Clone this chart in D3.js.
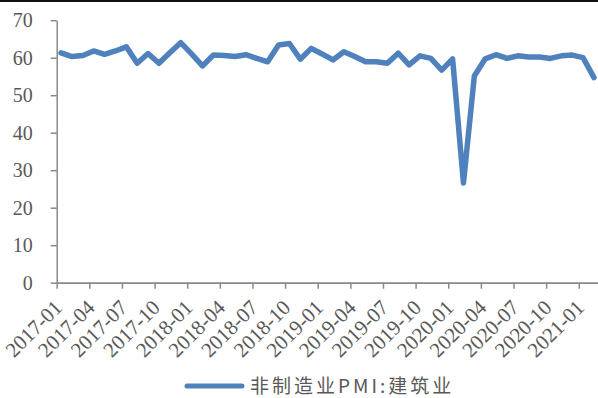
<!DOCTYPE html>
<html>
<head>
<meta charset="utf-8">
<script src="https://cdn.jsdelivr.net/npm/d3@7"></script>
<style>
  html, body { margin: 0; padding: 0; background: #fff; }
  svg { display: block; }
</style>
</head>
<body>
<svg id="chart" width="598" height="398"></svg>
<script>
// Monthly construction business activity index, 2017-01 .. 2021-02
const months = [
  "2017-01","2017-02","2017-03","2017-04","2017-05","2017-06","2017-07","2017-08","2017-09","2017-10","2017-11","2017-12",
  "2018-01","2018-02","2018-03","2018-04","2018-05","2018-06","2018-07","2018-08","2018-09","2018-10","2018-11","2018-12",
  "2019-01","2019-02","2019-03","2019-04","2019-05","2019-06","2019-07","2019-08","2019-09","2019-10","2019-11","2019-12",
  "2020-01","2020-02","2020-03","2020-04","2020-05","2020-06","2020-07","2020-08","2020-09","2020-10","2020-11","2020-12",
  "2021-01","2021-02"
];
const values = [
  61.3, 60.3, 60.6, 61.8, 60.9, 61.8, 62.9, 58.5, 61.1, 58.5, 61.3, 64.0,
  61.0, 57.8, 60.7, 60.6, 60.3, 60.8, 59.8, 58.9, 63.4, 63.8, 59.6, 62.5,
  61.0, 59.4, 61.6, 60.3, 58.9, 58.9, 58.5, 61.2, 58.1, 60.5, 59.8, 56.7,
  59.7, 26.6, 55.1, 59.7, 60.8, 59.8, 60.5, 60.2, 60.2, 59.8, 60.5, 60.7,
  60.0, 54.7
];
const yTicks = [0, 10, 20, 30, 40, 50, 60, 70];
const xTickLabels = months.filter((m, i) => i % 3 === 0);
const seriesName = "非制造业PMI:建筑业";

const svg = d3.select("#chart");
const plot = { left: 56.7, right: 600.5, top: 20.2, bottom: 282.7 };
const axisColor = "#898989", textColor = "#595959", lineColor = "#4f81bd";
const font = "'Liberation Serif', 'Times New Roman', serif";

// top rule
svg.append("rect").attr("x", 0).attr("y", 0).attr("width", 598).attr("height", 2).attr("fill", "#111");

const x = d3.scaleLinear().domain([0, months.length]).range([plot.left, plot.right]);
const y = d3.scaleLinear().domain([0, 70]).range([plot.bottom, plot.top]);

// y axis
const yAxis = svg.append("g")
  .attr("transform", `translate(${plot.left},0)`)
  .call(d3.axisLeft(y).tickValues(yTicks).tickSize(6).tickPadding(18).tickSizeOuter(0));
yAxis.select(".domain").attr("stroke", axisColor).attr("stroke-width", 1.5);
yAxis.selectAll(".tick line").attr("stroke", axisColor).attr("stroke-width", 1.5);
yAxis.selectAll("text").attr("fill", textColor).style("font-family", font).style("font-size", "20px");

// x axis: quarterly ticks at month starts
const xAxis = svg.append("g")
  .attr("transform", `translate(0,${plot.bottom})`)
  .call(d3.axisBottom(x)
    .tickValues(xTickLabels.map(m => months.indexOf(m)))
    .tickFormat(i => months[i])
    .tickSize(6).tickSizeOuter(0));
xAxis.select(".domain").attr("stroke", axisColor).attr("stroke-width", 1.8);
xAxis.selectAll(".tick line").attr("stroke", axisColor).attr("stroke-width", 1.5);
xAxis.selectAll("text")
  .attr("fill", textColor)
  .style("font-family", font).style("font-size", "21px")
  .attr("text-anchor", "end")
  .attr("x", 0).attr("y", 0).attr("dy", "0.35em")
  .attr("transform", "translate(1,21) rotate(-45)");

// series line
const line = d3.line()
  .x((d, i) => x(i + 0.4))
  .y(d => y(d));
svg.append("path")
  .datum(values)
  .attr("fill", "none")
  .attr("stroke", lineColor)
  .attr("stroke-width", 5.5)
  .attr("stroke-linejoin", "round")
  .attr("stroke-linecap", "round")
  .attr("d", line);

// legend
const lg = svg.append("g").attr("transform", "translate(187,386)");
lg.append("line").attr("x1", 0).attr("x2", 55).attr("y1", 0).attr("y2", 0)
  .attr("stroke", lineColor).attr("stroke-width", 5).attr("stroke-linecap", "round");
lg.append("text").attr("x", 63).attr("y", 0).attr("dy", "0.35em")
  .attr("fill", textColor)
  .style("font-family", "'Noto Sans CJK SC', " + font)
  .style("font-size", "19px")
  .style("letter-spacing", "3px")
  .text(seriesName);
</script>
</body>
</html>
